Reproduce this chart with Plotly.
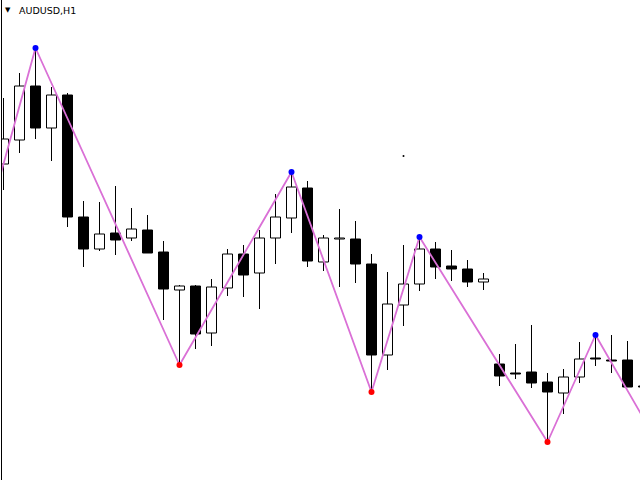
import plotly.graph_objects as go

# ---- data (price in chart points, one candle per hour) ----
bar_index = list(range(41))
open_ = [316, 340, 394, 352, 385, 263, 231, 247, 242, 250,
         228, 190, 194, 147, 192, 226, 207, 242, 262, 292,
         218, 241, 241, 216, 125, 175, 196, 231, 214, 211,
         198, 116, 107, 108, 98, 87, 103, 122, 120, 120, 94]
high = [382, 407, 432, 393, 387, 279, 278, 294, 272, 265,
        239, 195, 195, 201, 231, 235, 250, 286, 308, 299,
        245, 271, 259, 226, 208, 235, 243, 238, 230, 220,
        207, 126, 136, 155, 107, 111, 138, 145, 145, 139, 95]
low = [290, 327, 341, 319, 253, 213, 229, 225, 239, 227,
       160, 115, 131, 134, 184, 183, 171, 216, 247, 213,
       209, 193, 197, 88, 110, 154, 189, 201, 199, 193,
       190, 94, 101, 92, 38, 66, 97, 114, 107, 93, 92]
close = [341, 394, 352, 385, 263, 231, 246, 240, 251, 227,
         191, 194, 146, 193, 226, 205, 242, 263, 293, 219,
         242, 242, 216, 125, 176, 196, 231, 213, 211, 198,
         201, 104, 106, 97, 88, 103, 121, 121, 119, 93, 93]

# zigzag turning points (bar index, price)
zz_index = [-1, 2, 11, 18, 23, 26, 34, 37, 41]
zz_price = [258, 432, 115, 308, 88, 243, 38, 145, 34]
zz_kind = ["low", "high", "low", "high", "low", "high", "low", "high", "low"]

stray_index = [25]
stray_price = [324]

symbol_label = "AUDUSD,H1"

# ---- build traces ----
up_x, up_base, up_h = [], [], []
dn_x, dn_base, dn_h = [], [], []
wx, wy = [], []
for i, o, h, l, c in zip(bar_index, open_, high, low, close):
    top, bot = max(o, c), min(o, c)
    if c >= o:
        up_x.append(i); up_base.append(bot); up_h.append(top - bot)
    else:
        dn_x.append(i); dn_base.append(bot); dn_h.append(top - bot)
    wx += [i, i, None, i, i, None]
    wy += [top, h, None, l, bot, None]

fig = go.Figure()
fig.add_trace(go.Bar(x=up_x, y=up_h, base=up_base, width=0.625,
                     marker=dict(color="white", line=dict(color="black", width=1))))
fig.add_trace(go.Bar(x=dn_x, y=dn_h, base=dn_base, width=0.625,
                     marker=dict(color="black", line=dict(color="black", width=1))))
fig.add_trace(go.Scatter(x=wx, y=wy, mode="lines",
                         line=dict(color="black", width=1)))
fig.add_trace(go.Scatter(x=zz_index, y=zz_price, mode="lines",
                         line=dict(color="#DA70D6", width=1.8)))
dot_colors = ["#0000FF" if k == "high" else "#FF0000" for k in zz_kind]
fig.add_trace(go.Scatter(x=zz_index, y=zz_price, mode="markers",
                         marker=dict(color=dot_colors, size=6, line=dict(width=0))))
fig.add_trace(go.Scatter(x=stray_index, y=stray_price, mode="markers",
                         marker=dict(color="black", size=2, line=dict(width=0))))

fig.update_layout(
    width=640, height=480,
    margin=dict(l=2, r=0, t=0, b=0),
    paper_bgcolor="white", plot_bgcolor="white",
    showlegend=False, barmode="overlay", hovermode=False,
    xaxis=dict(range=[-1.5 / 16, 636.5 / 16], showgrid=False, zeroline=False,
               showticklabels=False, ticks="", showline=False),
    yaxis=dict(range=[0, 480], showgrid=False, zeroline=False,
               showticklabels=False, ticks="", showline=True,
               linecolor="black", linewidth=1),
    annotations=[
        dict(text="▼", xref="paper", yref="paper", x=6 / 638, y=1 - 10 / 480,
             xanchor="center", yanchor="middle", showarrow=False,
             font=dict(family="DejaVu Sans", size=7, color="black")),
        dict(text=symbol_label, xref="paper", yref="paper", x=15 / 638, y=1 - 10 / 480,
             xanchor="left", yanchor="middle", showarrow=False,
             font=dict(family="DejaVu Sans", size=9.5, color="black")),
    ],
)

fig.write_html("out.html", config={"displayModeBar": False},
               post_script="document.body.style.margin='0';document.body.style.overflow='hidden';")
